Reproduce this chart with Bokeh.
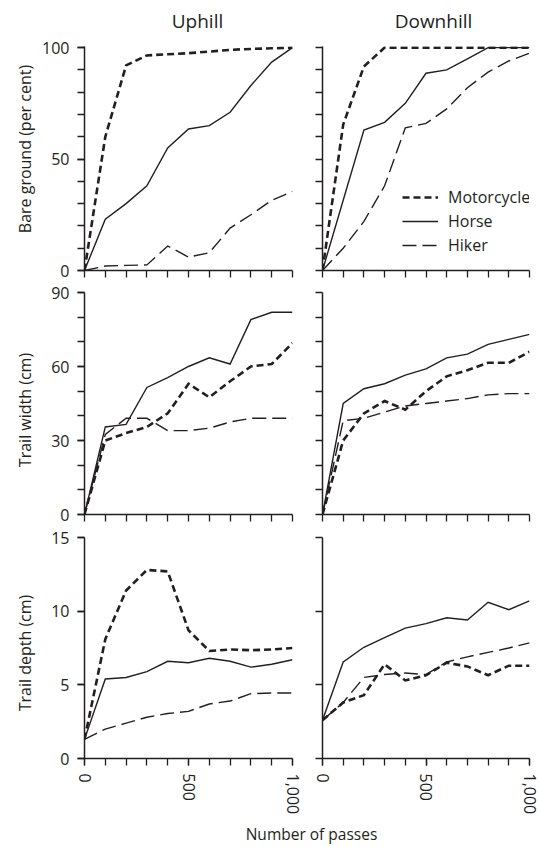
import math
from bokeh.plotting import figure
from bokeh.layouts import row, column
from bokeh.models import (Range1d, FixedTicker, NumeralTickFormatter, Legend,
                          LegendItem, Label)
from bokeh.embed import file_html
from bokeh.resources import INLINE

# ---------------- data ----------------
passes = [0, 100, 200, 300, 400, 500, 600, 700, 800, 900, 1000]
columns_names = ["Uphill", "Downhill"]
row_labels = ["Bare ground (per cent)", "Trail width (cm)", "Trail depth (cm)"]
series_names = ["Motorcycle", "Horse", "Hiker"]
x_title = "Number of passes"

bare_up_motorcycle = [0, 60, 92, 96.5, 97, 97.5, 98.2, 99, 99.4, 99.7, 100]
bare_up_horse = [0, 23, 30, 38, 55, 63.5, 65, 71, 83, 93.5, 100]
bare_up_hiker = [0, 2, 2.3, 2.5, 11, 6, 8, 19, 25, 31.5, 35.5]

bare_down_motorcycle = [0, 65.5, 91.5, 100, 100, 100, 100, 100, 100, 100, 100]
bare_down_horse = [0, 31.5, 63, 66.5, 75, 88.5, 90, 95, 100, 100, 100]
bare_down_hiker = [0, 10, 22, 38, 64, 66, 72.5, 82, 89, 94, 97.5]

width_up_motorcycle = [0, 30, 33, 35.5, 41, 53, 47.5, 54, 60, 61, 69.5]
width_up_horse = [0, 35.5, 36.5, 51.5, 55.5, 60, 63.5, 61, 79, 82, 82]
width_up_hiker = [0, 32.5, 39, 39, 34, 34, 35, 37.5, 39, 39, 39]

width_down_motorcycle = [0, 30, 41, 46, 42.5, 50, 56, 58.5, 61.5, 61.5, 66]
width_down_horse = [0, 45, 51, 53, 56.5, 59, 63.5, 65, 69, 71, 73]
width_down_hiker = [0, 38, 39, 41.5, 44, 45, 46, 47, 48.5, 49, 49]

depth_up_motorcycle = [1.3, 8.1, 11.4, 12.8, 12.7, 8.7, 7.3, 7.4, 7.35, 7.4, 7.5]
depth_up_horse = [1.3, 5.4, 5.5, 5.9, 6.6, 6.5, 6.8, 6.6, 6.2, 6.4, 6.7]
depth_up_hiker = [1.3, 2.0, 2.4, 2.8, 3.05, 3.2, 3.7, 3.9, 4.4, 4.45, 4.45]

depth_down_motorcycle = [2.6, 3.8, 4.3, 6.4, 5.3, 5.65, 6.5, 6.25, 5.65, 6.3, 6.3]
depth_down_horse = [2.6, 6.55, 7.55, 8.2, 8.85, 9.15, 9.55, 9.4, 10.6, 10.1, 10.7]
depth_down_hiker = [2.6, 3.8, 5.5, 5.7, 5.8, 5.7, 6.55, 6.9, 7.2, 7.5, 7.85]

y_max = [100, 90, 15]
y_major = [[0, 50, 100], [0, 30, 60, 90], [0, 5, 10, 15]]
y_minor = [list(range(0, 101, 10)), list(range(0, 91, 10)), [0, 5, 10, 15]]
x_major = [0, 500, 1000]
x_minor = list(range(0, 1001, 100))

panel_data = [
    [(bare_up_motorcycle, bare_up_horse, bare_up_hiker),
     (bare_down_motorcycle, bare_down_horse, bare_down_hiker)],
    [(width_up_motorcycle, width_up_horse, width_up_hiker),
     (width_down_motorcycle, width_down_horse, width_down_hiker)],
    [(depth_up_motorcycle, depth_up_horse, depth_up_hiker),
     (depth_down_motorcycle, depth_down_horse, depth_down_hiker)],
]

# ---------------- style / layout ----------------
INK = "#231f20"
FONT = "Open Sans"
styles = [dict(line_width=2.6, line_dash="7 4"),
          dict(line_width=1.4, line_dash="solid"),
          dict(line_width=1.4, line_dash="14 6")]

HEADER_H = 34
FOOTER_H = 27
YLAB_W = 36
frame_h = [224, 222, 221]
border_top = [12, 12, 13]
border_bottom = [10, 10, 62]
frame_w = [208, 207]
border_left = [48, 16]
border_right = [14, 11]
ylabel_center = [121.5, 104.5, 105.5]   # from bottom of each row's frame
title_center = [113, 111]               # from left of each frame


def blank_fig(w, h):
    f = figure(width=w, height=h, x_range=Range1d(0, 1), y_range=Range1d(0, 1),
               output_backend="svg", toolbar_location=None, title=None,
               x_axis_location=None, y_axis_location=None, min_border=0)
    f.outline_line_color = None
    f.xgrid.visible = False
    f.ygrid.visible = False
    return f


def make_panel(r, c):
    top = y_max[r] * (1.005 if r == 0 else 1.0)
    p = figure(width=border_left[c] + frame_w[c] + border_right[c],
               height=border_top[r] + frame_h[r] + border_bottom[r],
               x_range=Range1d(0, 1000), y_range=Range1d(0, top),
               output_backend="svg", toolbar_location=None, title=None,
               min_border_left=border_left[c], min_border_right=border_right[c],
               min_border_top=border_top[r], min_border_bottom=border_bottom[r])
    p.outline_line_color = None
    p.xgrid.visible = False
    p.ygrid.visible = False

    if r == 2:
        p.xaxis.ticker = FixedTicker(ticks=x_major, minor_ticks=x_minor)
        p.xaxis.formatter = NumeralTickFormatter(format="0,0")
        p.xaxis.major_label_orientation = "vertical"
    else:
        p.xaxis.ticker = FixedTicker(ticks=[], minor_ticks=x_minor)
    if c == 0:
        p.yaxis.ticker = FixedTicker(ticks=y_major[r], minor_ticks=y_minor[r])
    else:
        p.yaxis.ticker = FixedTicker(ticks=[], minor_ticks=y_minor[r])

    for ax in (p.xaxis[0], p.yaxis[0]):
        ax.axis_line_color = INK
        ax.axis_line_width = 1.5
        ax.major_tick_line_color = INK
        ax.minor_tick_line_color = INK
        ax.major_tick_line_width = 1.3
        ax.minor_tick_line_width = 1.3
        ax.major_tick_out = 7
        ax.major_tick_in = 0
        ax.minor_tick_out = 7
        ax.minor_tick_in = 0
        ax.major_label_standoff = 8
        ax.major_label_text_font = FONT
        ax.major_label_text_font_size = "16px"
        ax.major_label_text_color = INK

    rends = []
    for vals, st in zip(panel_data[r][c], styles):
        rends.append(p.line(passes, vals, line_color=INK, line_cap="butt",
                            line_join="miter", **st))

    if r == 0 and c == 1:
        legend = Legend(items=[LegendItem(label=n, renderers=[rr])
                               for n, rr in zip(series_names, rends)],
                        location=(80, 14), padding=0, margin=0, spacing=2,
                        glyph_width=36, glyph_height=20, label_height=20,
                        label_standoff=10, border_line_color=None,
                        background_fill_alpha=0,
                        label_text_font=FONT, label_text_font_size="16px",
                        label_text_color=INK)
        p.add_layout(legend)
    return p


# header with column titles
total_w = YLAB_W + sum(border_left) + sum(frame_w) + sum(border_right)
header = blank_fig(total_w, HEADER_H)
frame_left = [YLAB_W + border_left[0],
              YLAB_W + border_left[0] + frame_w[0] + border_right[0] + border_left[1]]
for c in range(2):
    header.add_layout(Label(x=frame_left[c] + title_center[c], y=14,
                            x_units="screen", y_units="screen",
                            text=columns_names[c], text_font=FONT,
                            text_font_size="19px", text_color=INK,
                            text_align="center", text_baseline="alphabetic"))

rows = [header]
for r in range(3):
    h = border_top[r] + frame_h[r] + border_bottom[r]
    ylab = blank_fig(YLAB_W, h)
    ylab.add_layout(Label(x=24, y=ylabel_center[r], x_units="screen",
                          y_units="screen", text=row_labels[r], text_font=FONT,
                          text_font_size="16px", text_color=INK,
                          text_align="center", text_baseline="alphabetic",
                          angle=math.pi / 2))
    rows.append(row(ylab, make_panel(r, 0), make_panel(r, 1)))

footer = blank_fig(total_w, FOOTER_H)
footer.add_layout(Label(x=311, y=14, x_units="screen", y_units="screen",
                        text=x_title, text_font=FONT,
                        text_font_size="15.5px", text_color=INK,
                        text_align="center", text_baseline="alphabetic"))
rows.append(footer)

layout = column(*rows)
open("out.html", "w").write(file_html(layout, INLINE))
